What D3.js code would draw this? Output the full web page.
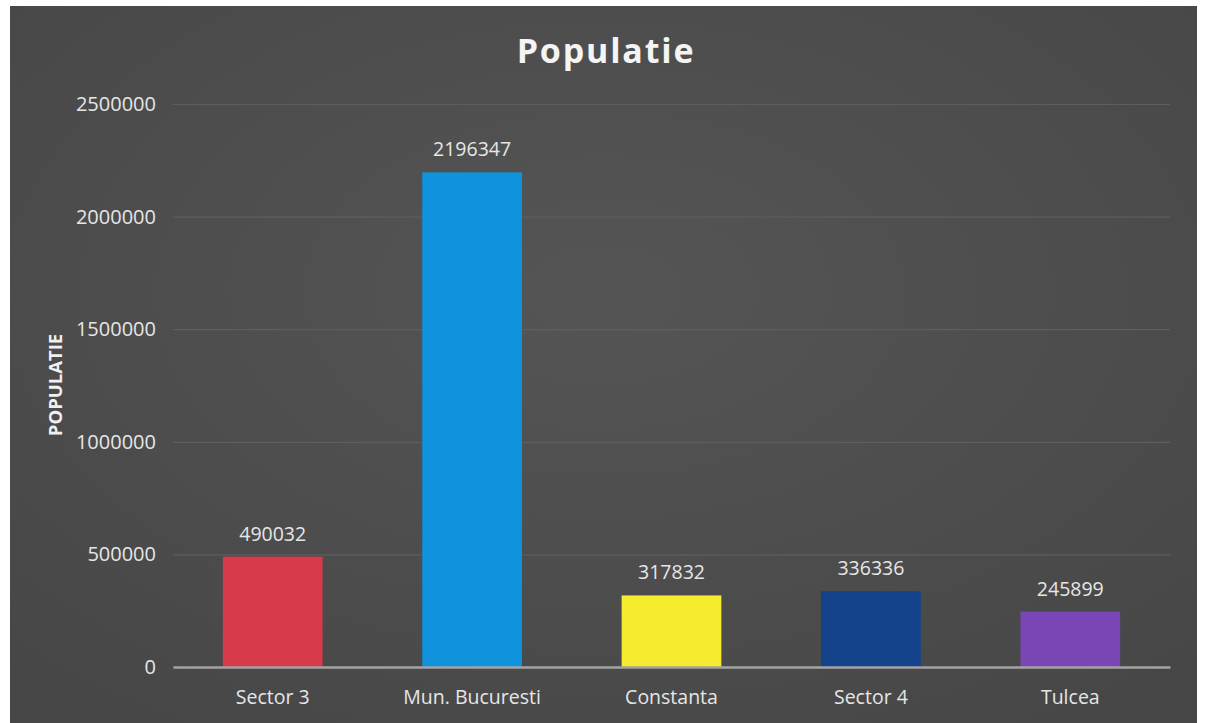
<!DOCTYPE html>
<html><head><meta charset="utf-8">
<script src="https://cdn.jsdelivr.net/npm/d3@7"></script>
<style>html,body{margin:0;padding:0;background:#fff;overflow:hidden}</style>
</head><body>
<svg id="c" width="1207" height="723"></svg>
<script>
const categories = ["Sector 3", "Mun. Bucuresti", "Constanta", "Sector 4", "Tulcea"];
const values = [490032, 2196347, 317832, 336336, 245899];
const barColors = ["#d63a4b", "#0f93dd", "#f4ec2c", "#13428a", "#7a46b6"];
const yTicks = [0, 500000, 1000000, 1500000, 2000000, 2500000];
const title = "Populatie";
const yTitle = "POPULATIE";

(function(){
const svg = d3.select("#c");
const defs = svg.append("defs");
const rg = defs.append("radialGradient").attr("id","bg").attr("cx","50%").attr("cy","40%").attr("r","75%");
rg.append("stop").attr("offset","0%").attr("stop-color","#555555");
rg.append("stop").attr("offset","100%").attr("stop-color","#464646");

svg.append("rect").attr("x",10).attr("y",6).attr("width",1187).attr("height",717).attr("fill","url(#bg)");

const font = "'Open Sans', sans-serif";
const pLeft = 173, pRight = 1170, pTop = 104, pBottom = 667;
const x = d3.scaleBand().domain(categories).range([pLeft, pRight]).paddingInner(0.5).paddingOuter(0.25);
const y = d3.scaleLinear().domain([0, 2500000]).range([pBottom, pTop]);

const yAxis = d3.axisLeft(y).tickValues(yTicks).tickSize(-(pRight-pLeft)).tickPadding(17).tickFormat(d3.format("d"));
const gy = svg.append("g").attr("transform",`translate(${pLeft},0)`).call(yAxis);
gy.select(".domain").remove();
gy.selectAll(".tick line").attr("stroke","#5e5e5e").attr("stroke-width",1.2);
gy.selectAll(".tick text").attr("fill","#e6e6e6").attr("font-family",font).attr("font-size",20);

svg.append("g").selectAll("rect").data(values).join("rect")
  .attr("x",(d,i)=>x(categories[i]))
  .attr("y",d=>y(d))
  .attr("width",x.bandwidth())
  .attr("height",d=>y(0)-y(d))
  .attr("fill",(d,i)=>barColors[i]);

const xAxis = d3.axisBottom(x).tickSize(0).tickPadding(23);
const gx = svg.append("g").attr("transform",`translate(0,${pBottom})`).call(xAxis);
gx.select(".domain").attr("stroke","#a3a3a3").attr("stroke-width",2.5);
gx.selectAll(".tick text").attr("fill","#e6e6e6").attr("font-family",font).attr("font-size",19.5);

svg.append("g").selectAll("text").data(values).join("text")
  .attr("x",(d,i)=>x(categories[i])+x.bandwidth()/2)
  .attr("y",d=>y(d)-16)
  .attr("text-anchor","middle")
  .attr("fill","#e6e6e6").attr("font-family",font).attr("font-size",19.5)
  .text(d=>d);

svg.append("text").attr("x",606).attr("y",63).attr("text-anchor","middle")
  .attr("fill","#f4f4f4").attr("font-family",font).attr("font-weight","bold")
  .attr("font-size",34).attr("letter-spacing",1.8).text(title);

svg.append("text").attr("transform","translate(62,385) rotate(-90)").attr("text-anchor","middle")
  .attr("fill","#f0f0f0").attr("font-family",font).attr("font-weight","bold")
  .attr("font-size",18.5).text(yTitle);
})();
</script>
</body></html>
